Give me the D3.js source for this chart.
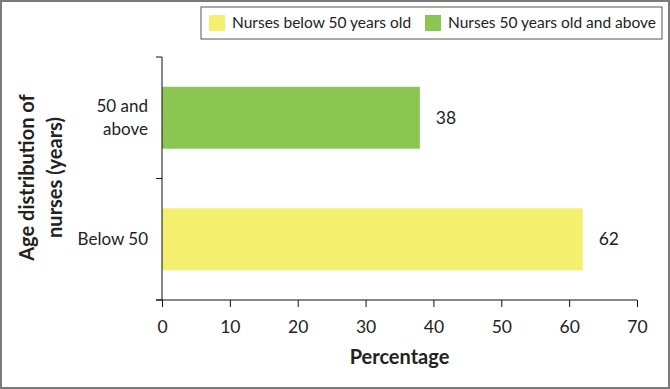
<!DOCTYPE html>
<html>
<head>
	<meta charset="utf-8">
	<title>Age distribution of nurses</title>
	<script src="https://d3js.org/d3.v7.min.js"></script>
	<style>
		body { margin: 0; background: #fff; }
		text { font-family: 'Lato', 'Open Sans', sans-serif; fill: #222; }
		.domain, .tick line { stroke: #111; }
	</style>
</head>
<body>
<script>
	// data
	var categories = ["Below 50", "50 and above"];
	var values = [62, 38];
	var legendLabels = ["Nurses below 50 years old", "Nurses 50 years old and above"];
	var colors = ["#F4EF6E", "#8BC653"];
	var xTicks = [0, 10, 20, 30, 40, 50, 60, 70];

	var W = 670, H = 389;
	var margin = {top: 57, right: 33, bottom: 89, left: 162},
		width = W - margin.left - margin.right,
		height = H - margin.top - margin.bottom;

	var svg = d3.select("body").append("svg")
		.attr("width", W)
		.attr("height", H);

	// outer frame
	svg.append("rect")
		.attr("x", 1).attr("y", 1)
		.attr("width", W - 2).attr("height", H - 2)
		.attr("fill", "none")
		.attr("stroke", "#7a7a7a")
		.attr("stroke-width", 2);

	var g = svg.append("g")
		.attr("transform", "translate(" + margin.left + "," + margin.top + ")");

	var x = d3.scaleLinear().domain([0, 70]).range([0, width]);
	var y = d3.scaleBand().domain(categories.slice().reverse()).range([0, height]);

	var barH = y.bandwidth() * 0.51;

	// bars
	g.selectAll(".bar")
		.data(categories)
		.enter().append("rect")
		.attr("class", "bar")
		.attr("x", 0)
		.attr("y", function(d) { return y(d) + (y.bandwidth() - barH) / 2; })
		.attr("width", function(d, i) { return x(values[i]); })
		.attr("height", barH)
		.attr("fill", function(d, i) { return colors[i]; });

	// value labels
	g.selectAll(".val")
		.data(categories)
		.enter().append("text")
		.attr("class", "val")
		.attr("x", function(d, i) { return x(values[i]) + 16; })
		.attr("y", function(d) { return y(d) + y.bandwidth() / 2; })
		.attr("dy", "0.35em")
		.style("font-size", "17.5px")
		.text(function(d, i) { return values[i]; });

	// x axis
	var xAxis = g.append("g")
		.attr("transform", "translate(0," + height + ")")
		.call(d3.axisBottom(x).tickValues(xTicks).tickSize(7).tickSizeOuter(7));
	xAxis.selectAll("text")
		.attr("dy", "0.35em")
		.attr("y", 27)
		.style("font-size", "17.5px")
		.style("font-family", "Lato, sans-serif")
		.style("fill", "#222");
	xAxis.select(".domain").attr("d", "M-6,0H" + width);

	// y axis line + boundary ticks
	g.append("line")
		.attr("x1", 0).attr("x2", 0)
		.attr("y1", 0).attr("y2", height)
		.attr("stroke", "#111");
	var bounds = y.domain().map(function(d) { return y(d); }).concat([height]);
	g.selectAll(".ytick")
		.data(bounds)
		.enter().append("line")
		.attr("x1", -6).attr("x2", 0)
		.attr("y1", function(d) { return d; })
		.attr("y2", function(d) { return d; })
		.attr("stroke", "#111");

	// category labels
	var catLines = {"Below 50": ["Below 50"], "50 and above": ["50 and", "above"]};
	categories.forEach(function(c) {
		var lines = catLines[c];
		var t = g.append("text")
			.attr("text-anchor", "end")
			.style("font-size", "17px");
		lines.forEach(function(l, i) {
			t.append("tspan")
				.attr("x", -14)
				.attr("y", y(c) + y.bandwidth() / 2 + (i - (lines.length - 1) / 2) * 23)
				.attr("dy", "0.35em")
				.text(l);
		});
	});

	// axis titles
	g.append("text")
		.attr("x", width / 2)
		.attr("y", height + 57)
		.attr("dy", "0.35em")
		.attr("text-anchor", "middle")
		.style("font-size", "20px")
		.style("font-weight", "bold")
		.text("Percentage");

	var yt = svg.append("text")
		.attr("transform", "translate(41," + (margin.top + height / 2 - 1) + ") rotate(-90)")
		.attr("text-anchor", "middle")
		.style("font-size", "20px")
		.style("font-weight", "bold");
	yt.append("tspan").attr("x", 0).attr("y", -14).attr("dy", "0.35em").text("Age distribution of");
	yt.append("tspan").attr("x", 0).attr("y", 14).attr("dy", "0.35em").text("nurses (years)");

	// legend
	var legend = svg.append("g");
	legend.append("rect")
		.attr("x", 201).attr("y", 7)
		.attr("width", 461).attr("height", 32)
		.attr("fill", "#fff")
		.attr("stroke", "#555")
		.attr("stroke-width", 1);
	var legX = [209, 425];
	legendLabels.forEach(function(l, i) {
		legend.append("rect")
			.attr("x", legX[i]).attr("y", 15)
			.attr("width", 16).attr("height", 16)
			.attr("fill", colors[i]);
		legend.append("text")
			.attr("x", legX[i] + 23)
			.attr("y", 23)
			.attr("dy", "0.35em")
			.style("font-size", "15.5px")
			.text(l);
	});
</script>
</body>
</html>
